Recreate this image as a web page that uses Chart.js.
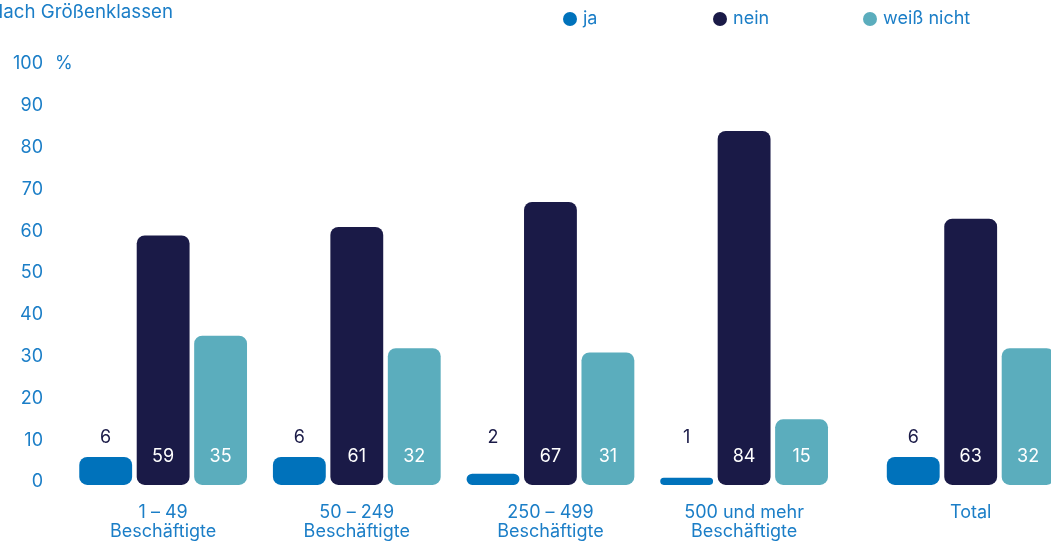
<!DOCTYPE html>
<html lang="de">
<head>
<meta charset="utf-8">
<title>Nach Größenklassen</title>
<script src="https://cdn.jsdelivr.net/npm/chart.js@4/dist/chart.umd.min.js"></script>
<style>
  html, body { margin: 0; padding: 0; background: #fff; overflow: hidden; }
  #wrap { position: relative; width: 1083px; height: 541px; }
</style>
</head>
<body>
<div id="wrap"><canvas id="chart"></canvas></div>
<script>
// Antworten nach Größenklassen, Angaben in %
const categories = [
  ['1 – 49', 'Beschäftigte'],
  ['50 – 249', 'Beschäftigte'],
  ['250 – 499', 'Beschäftigte'],
  ['500 und mehr', 'Beschäftigte'],
  ['Total']
];
const seriesNames = ['ja', 'nein', 'weiß nicht'];
const jaValues = [6, 6, 2, 1, 6];
const neinValues = [59, 61, 67, 84, 63];
const weissNichtValues = [35, 32, 31, 15, 32];
const yTicks = [0, 10, 20, 30, 40, 50, 60, 70, 80, 90, 100];

const BLUE_TEXT = '#1b7ec7';
const DARK = '#1a1a47';
const colors = ['#0072bb', DARK, '#5badbd'];
const FONT = 'Inter, "Noto Sans", sans-serif';

// Total sits a little further away from the size classes
const totalGap = 0.17;
const xPos = categories.map((c, i) => i === categories.length - 1 ? i + totalGap : i);

const series = [jaValues, neinValues, weissNichtValues];
const datasets = series.map((vals, s) => ({
  label: seriesNames[s],
  data: vals.map((v, i) => ({ x: xPos[i], y: v })),
  backgroundColor: colors[s],
  borderRadius: 8,
  borderSkipped: false,
  base: -0.7,
  clip: false,
  categoryPercentage: 0.89,
  barPercentage: 0.92
}));

// title, legend, % marker and value labels
const decor = {
  id: 'decor',
  afterDatasetsDraw(chart) {
    const { ctx, scales: { y } } = chart;
    const zero = y.getPixelForValue(0);
    ctx.save();
    ctx.font = '18px ' + FONT;
    ctx.textBaseline = 'middle';

    ctx.textAlign = 'center';
    chart.data.datasets.forEach((ds, s) => {
      chart.getDatasetMeta(s).data.forEach((bar, i) => {
        const v = series[s][i];
        if (s === 0) {
          ctx.fillStyle = DARK;
          ctx.fillText(String(v), bar.x, zero - 44);
        } else {
          ctx.fillStyle = '#ffffff';
          ctx.fillText(String(v), bar.x, zero - 25);
        }
      });
    });

    ctx.fillStyle = BLUE_TEXT;
    ctx.textAlign = 'left';
    ctx.fillText('%', 55, y.getPixelForValue(100));

    ctx.font = '18.7px ' + FONT;
    ctx.textAlign = 'right';
    ctx.fillText('Nach Größenklassen', 173, 12);

    ctx.font = '18px ' + FONT;
    ctx.textAlign = 'left';
    seriesNames.forEach((name, s) => {
      const cx = 570 + s * 150;
      ctx.fillStyle = colors[s];
      ctx.beginPath();
      ctx.arc(cx, 19, 7, 0, Math.PI * 2);
      ctx.fill();
      ctx.fillStyle = BLUE_TEXT;
      ctx.fillText(name, cx + 13, 19);
    });
    ctx.restore();
  }
};

new Chart(document.getElementById('chart'), {
  type: 'bar',
  data: { datasets },
  options: {
    responsive: true,
    maintainAspectRatio: false,
    animation: false,
    layout: { padding: { top: 64, left: 0, right: 0, bottom: 0 } },
    plugins: { legend: { display: false }, tooltip: { enabled: false } },
    scales: {
      x: {
        type: 'linear',
        offset: false,
        min: -0.45,
        max: 4.75,
        grid: { display: false, drawTicks: false },
        border: { display: false },
        afterBuildTicks: (scale) => { scale.ticks = xPos.map(v => ({ value: v })); },
        afterFit: (scale) => {
          scale.height = 59;
          scale.paddingLeft = 0;
          scale.paddingRight = 0;
        },
        ticks: {
          color: BLUE_TEXT,
          font: { family: FONT, size: 18, lineHeight: 1.07 },
          padding: 21,
          maxRotation: 0,
          autoSkip: false,
          callback: (value) => categories[xPos.indexOf(value)]
        }
      },
      y: {
        min: 0,
        max: 100,
        grid: { display: false, drawTicks: false },
        border: { display: false },
        afterBuildTicks: (scale) => { scale.ticks = yTicks.map(v => ({ value: v })); },
        afterFit: (scale) => {
          scale.width = 76;
          scale.paddingTop = 0;
          scale.paddingBottom = 0;
        },
        ticks: {
          color: BLUE_TEXT,
          font: { family: FONT, size: 18 },
          padding: 33
        }
      }
    }
  },
  plugins: [decor]
});
</script>
</body>
</html>
